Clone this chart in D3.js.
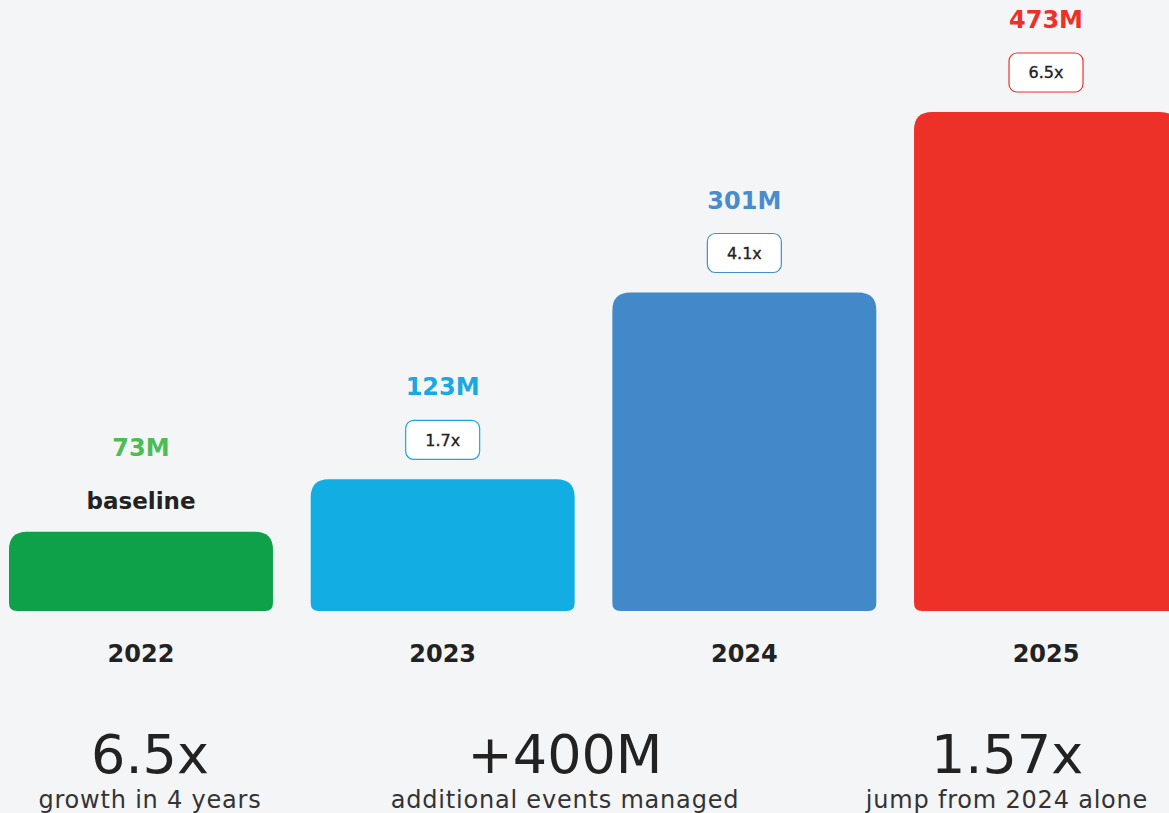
<!DOCTYPE html>
<html>
<head>
<meta charset="utf-8">
<script src="https://cdn.jsdelivr.net/npm/d3@7"></script>
<style>
  html, body { margin: 0; padding: 0; background: #f4f5f7; }
  svg { display: block; }
  text { font-family: "DejaVu Sans", "Open Sans", sans-serif; }
</style>
</head>
<body>
<svg id="chart" width="1169" height="813"></svg>
<script>
// Annual events managed (millions)
const years = ["2022", "2023", "2024", "2025"];
const events = [73, 123, 301, 473];
const valueLabels = ["73M", "123M", "301M", "473M"];
const multipliers = [null, "1.7x", "4.1x", "6.5x"];
const barColors = ["#0fa14a", "#12aee3", "#4189c8", "#ee3128"];
const labelColors = ["#4cbc55", "#1aa8e0", "#4a8ccb", "#ee3128"];

// Headline stats under the chart
const statValues = ["6.5x", "+400M", "1.57x"];
const statCaptions = ["growth in 4 years", "additional events managed", "jump from 2024 alone"];

const svg = d3.select("#chart");
const baseY = 611;

const x = d3.scaleBand().domain(years).range([9, 1178]).paddingInner(0.125).paddingOuter(0);
const y = d3.scaleLinear().domain([-2.5, 473]).range([baseY, 112]);

const rows = years.map((yr, i) => ({
  year: yr, value: events[i], label: valueLabels[i], mult: multipliers[i],
  color: barColors[i], labelColor: labelColors[i]
}));

// Bar with larger top radius and smaller bottom radius
function barPath(x0, y0, w, h, rt, rb) {
  rt = Math.min(rt, h / 2); rb = Math.min(rb, h / 2);
  return `M${x0},${y0 + rt}
    Q${x0},${y0} ${x0 + rt},${y0}
    L${x0 + w - rt},${y0}
    Q${x0 + w},${y0} ${x0 + w},${y0 + rt}
    L${x0 + w},${y0 + h - rb}
    Q${x0 + w},${y0 + h} ${x0 + w - rb},${y0 + h}
    L${x0 + rb},${y0 + h}
    Q${x0},${y0 + h} ${x0},${y0 + h - rb} Z`;
}

const g = svg.append("g");

g.selectAll("path.bar").data(rows).join("path")
  .attr("class", "bar")
  .attr("fill", d => d.color)
  .attr("d", d => barPath(x(d.year), y(d.value), x.bandwidth(), baseY - y(d.value), 18, 8));

const cx = d => x(d.year) + x.bandwidth() / 2;

// Value labels
g.selectAll("text.val").data(rows).join("text")
  .attr("class", "val")
  .attr("x", cx)
  .attr("y", d => y(d.value) - (d.mult ? 84 : 76))
  .attr("text-anchor", "middle")
  .attr("font-size", 24)
  .attr("font-weight", 700)
  .attr("fill", d => d.labelColor)
  .text(d => d.label);

// Multiplier badges
const badges = g.selectAll("g.badge").data(rows.filter(d => d.mult)).join("g")
  .attr("class", "badge")
  .attr("transform", d => `translate(${cx(d)},${y(d.value) - 39.5})`);
badges.append("rect")
  .attr("x", -37).attr("y", -19.5).attr("width", 74).attr("height", 39)
  .attr("rx", 8).attr("fill", "#ffffff")
  .attr("stroke", d => d.labelColor).attr("stroke-width", 1.2);
badges.append("text")
  .attr("text-anchor", "middle").attr("dy", "0.36em")
  .attr("font-size", 16).attr("font-weight", 400).attr("fill", "#222")
  .attr("stroke", "#222").attr("stroke-width", 0.35)
  .text(d => d.mult);

// "baseline" note for the first year
rows.filter(d => !d.mult).forEach(d => {
  g.append("text")
    .attr("x", cx(d)).attr("y", y(d.value) - 23)
    .attr("text-anchor", "middle")
    .attr("font-size", 23).attr("font-weight", 700).attr("fill", "#222")
    .text("baseline");
});

// Year axis labels
const axis = d3.axisBottom(x).tickSize(0).tickPadding(0);
const ax = svg.append("g").attr("transform", `translate(0,${baseY})`).call(axis);
ax.select(".domain").remove();
ax.selectAll("text")
  .attr("y", 51).attr("dy", 0)
  .attr("font-size", 24).attr("font-weight", 700).attr("fill", "#222")
  .style("font-family", "'DejaVu Sans', 'Open Sans', sans-serif");

// Headline stats
const statX = [150, 565, 1007];
statValues.forEach((v, i) => {
  svg.append("text")
    .attr("x", statX[i]).attr("y", 773)
    .attr("text-anchor", "middle")
    .attr("font-size", 54).attr("font-weight", 400).attr("fill", "#222")
    .text(v);
  svg.append("text")
    .attr("x", statX[i]).attr("y", 808)
    .attr("text-anchor", "middle")
    .attr("font-size", 24).attr("font-weight", 400).attr("fill", "#333")
    .attr("letter-spacing", 0.8)
    .text(statCaptions[i]);
});
</script>
</body>
</html>
